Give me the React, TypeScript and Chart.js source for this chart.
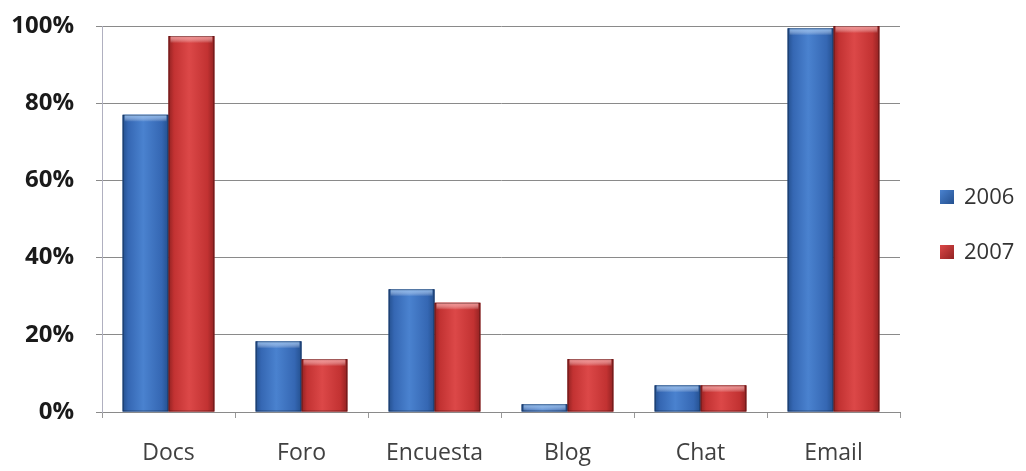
import React, { useEffect, useRef } from "react";
import { Chart, registerables } from "chart.js";

Chart.register(...registerables);

const categories = ["Docs", "Foro", "Encuesta", "Blog", "Chat", "Email"];
const seriesLabels = ["2006", "2007"];
const values2006 = [77, 18.3, 31.8, 2, 6.9, 99.4];
const values2007 = [97.4, 13.7, 28.3, 13.7, 6.9, 100];
const yTickStep = 20;
const yMax = 100;

const palettes = [
  { dark: "#24508f", mid: "#3567b3", light: "#4a82cf", cap: "#7fb0ea" },
  { dark: "#922222", mid: "#c23232", light: "#dc4848", cap: "#f08a8a" },
];

const FONT = "'Open Sans', Lato, 'DejaVu Sans', sans-serif";

const barPainter = {
  id: "barPainter",
  afterDatasetsDraw(chart: any) {
    const ctx = chart.ctx;
    chart.data.datasets.forEach((ds: any, di: number) => {
      const meta = chart.getDatasetMeta(di);
      const p = palettes[di];
      meta.data.forEach((el: any) => {
        const { x, y, base, width } = el.getProps(["x", "y", "base", "width"], true);
        const left = x - width / 2;
        const h = base - y;
        if (h <= 0) return;
        ctx.save();
        const g = ctx.createLinearGradient(left, 0, left + width, 0);
        g.addColorStop(0, p.dark);
        g.addColorStop(0.12, p.mid);
        g.addColorStop(0.45, p.light);
        g.addColorStop(0.85, p.mid);
        g.addColorStop(1, p.dark);
        ctx.fillStyle = g;
        ctx.fillRect(left, y, width, h);
        const capH = Math.min(7, h);
        const cg = ctx.createLinearGradient(0, y, 0, y + capH);
        cg.addColorStop(0, p.cap);
        cg.addColorStop(1, "rgba(255,255,255,0)");
        ctx.fillStyle = cg;
        ctx.fillRect(left + 2, y, width - 4, capH);
        ctx.strokeStyle = "rgba(0,0,0,0.35)";
        ctx.lineWidth = 1;
        ctx.strokeRect(left + 0.5, y + 0.5, width - 1, h - 1);
        ctx.restore();
      });
    });
  },
};

const legendPainter = {
  id: "legendPainter",
  afterDraw(chart: any) {
    const ctx = chart.ctx;
    const x0 = chart.chartArea.right + 40;
    const yc = [197, 252];
    ctx.save();
    chart.data.datasets.forEach((ds: any, i: number) => {
      const p = palettes[i];
      const y = yc[i];
      const g = ctx.createLinearGradient(x0, y - 7, x0 + 14, y + 7);
      g.addColorStop(0, p.light);
      g.addColorStop(1, p.dark);
      ctx.fillStyle = g;
      ctx.fillRect(x0, y - 7, 14, 14);
      ctx.fillStyle = "#333";
      ctx.font = "22px " + FONT;
      ctx.textBaseline = "middle";
      ctx.textAlign = "left";
      ctx.fillText(ds.label, x0 + 24, y + 1);
    });
    ctx.restore();
  },
};

export default function App() {
  const ref = useRef<HTMLCanvasElement | null>(null);
  useEffect(() => {
    document.body.style.margin = "0";
    const chart = new Chart(ref.current as HTMLCanvasElement, {
      type: "bar",
      data: {
        labels: categories,
        datasets: [
          { label: seriesLabels[0], data: values2006, backgroundColor: palettes[0].mid },
          { label: seriesLabels[1], data: values2007, backgroundColor: palettes[1].mid },
        ],
      },
      options: {
        animation: false,
        responsive: false,
        layout: { padding: { left: 0, right: 126, top: 26, bottom: 0 } },
        datasets: { bar: { categoryPercentage: 0.69, barPercentage: 1 } },
        plugins: { legend: { display: false }, tooltip: { enabled: false } },
        scales: {
          x: {
            grid: { drawOnChartArea: false, offset: true, color: "#999", tickLength: 6 },
            border: { display: true, color: "#8a8a8a" },
            ticks: { color: "#404040", font: { family: FONT, size: 23 }, padding: 22 },
            afterFit: (s: any) => { s.height = 59; s.paddingLeft = 0; s.paddingRight = 0; },
          },
          y: {
            min: 0,
            max: yMax,
            ticks: {
              stepSize: yTickStep,
              callback: (v: any) => v + "%",
              color: "#1a1a1a",
              font: { family: FONT, size: 24, weight: "bold" },
              padding: 22,
            },
            grid: { color: "#8a8a8a", tickLength: 6 },
            border: { display: true, color: "#b0b0c0" },
            afterFit: (s: any) => { s.width = 102; s.paddingTop = 0; s.paddingBottom = 0; },
          },
        },
      },
      plugins: [barPainter, legendPainter],
    });
    return () => chart.destroy();
  }, []);
  return (
    <div style={{ width: 1026, height: 471, background: "#fff" }}>
      <canvas ref={ref} width={1026} height={471} />
    </div>
  );
}
